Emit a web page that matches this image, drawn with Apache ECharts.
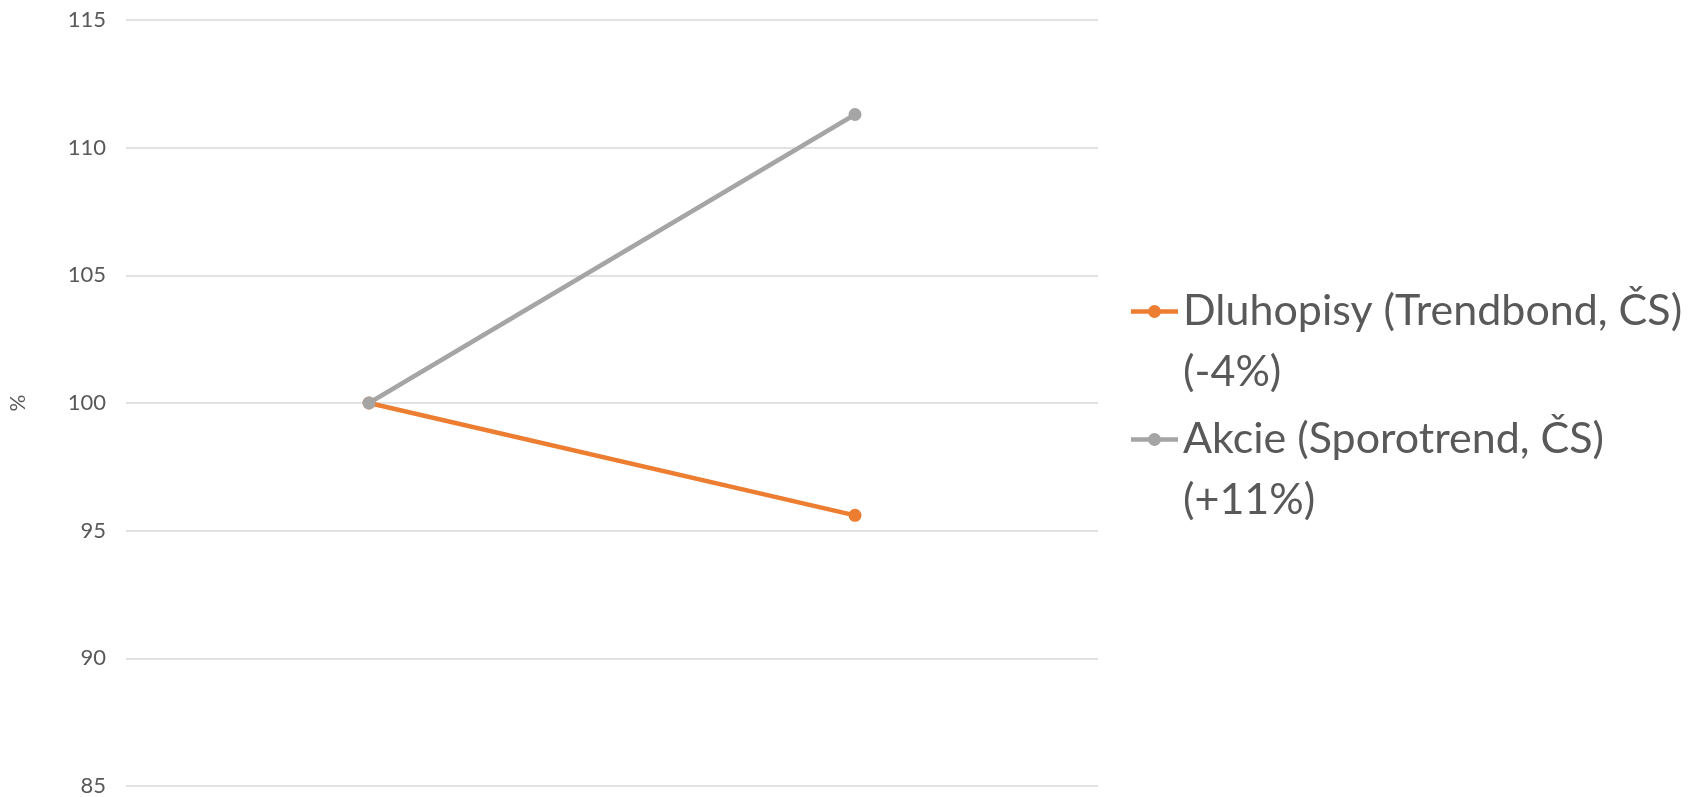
<!DOCTYPE html>
<html>
<head>
<meta charset="utf-8">
<script src="https://cdn.jsdelivr.net/npm/echarts@6/dist/echarts.min.js"></script>
<style>html,body{margin:0;padding:0;background:#fff;}#c{width:1692px;height:797px;}</style>
</head>
<body>
<div id="c"></div>
<script>
const categories = ['', ''];
const bondName = 'Dluhopisy (Trendbond, ČS)';
const bondPct = '(-4%)';
const bondValues = [100, 95.6];
const stockName = 'Akcie (Sporotrend, ČS)';
const stockPct = '(+11%)';
const stockValues = [100, 111.3];
const yMin = 85, yMax = 115, yStep = 5;
const yName = '%';

const pctMap = {};
pctMap[bondName] = bondPct;
pctMap[stockName] = stockPct;

// legend icon: line + circle marker placed at the first text line of a two-line label
const LH = 61;
const IW = 47, IH = 2 * LH;
const cy = LH / 2;
const legendIcon = 'path://M0,0 L0.01,0 ' +
  'M0,' + (cy - 2.25) + ' L' + IW + ',' + (cy - 2.25) + ' L' + IW + ',' + (cy + 2.25) + ' L0,' + (cy + 2.25) + ' Z ' +
  'M' + (IW / 2 + 6.5) + ',' + cy + ' A6.5,6.5 0 1,1 ' + (IW / 2 - 6.5) + ',' + cy + ' A6.5,6.5 0 1,1 ' + (IW / 2 + 6.5) + ',' + cy + ' Z ' +
  'M' + IW + ',' + IH + ' L' + (IW - 0.01) + ',' + IH;

const chart = echarts.init(document.getElementById('c'));
chart.setOption({
  animation: false,
  grid: { left: 123, top: 20, right: 594, bottom: 8, containLabel: false },
  xAxis: {
    type: 'category', data: categories, boundaryGap: true,
    axisLine: { show: false }, axisTick: { show: false }, axisLabel: { show: false }
  },
  yAxis: {
    type: 'value', min: yMin, max: yMax, interval: yStep,
    name: yName, nameLocation: 'middle', nameGap: 97, nameRotate: 90,
    nameTextStyle: { color: '#595959', fontSize: 21, fontFamily: 'Lato' },
    axisLine: { show: false }, axisTick: { show: false },
    axisLabel: { color: '#595959', fontSize: 22, fontFamily: 'Lato', margin: 20 },
    splitLine: { lineStyle: { color: '#D9D9D9', width: 1.5 } }
  },
  legend: {
    orient: 'vertical', left: 1131, top: 281, itemGap: 6, padding: 0,
    itemWidth: IW, itemHeight: IH, icon: legendIcon,
    itemStyle: { borderWidth: 0 },
    formatter: function (n) { return n + '\n' + pctMap[n]; },
    textStyle: { color: '#595959', fontSize: 43, fontFamily: 'Lato', lineHeight: LH },
    data: [bondName, stockName]
  },
  series: [
    { name: bondName, type: 'line', data: bondValues, symbol: 'circle', symbolSize: 13,
      itemStyle: { color: '#ED7D31' }, lineStyle: { color: '#ED7D31', width: 4.5 } },
    { name: stockName, type: 'line', data: stockValues, symbol: 'circle', symbolSize: 13,
      itemStyle: { color: '#A5A5A5' }, lineStyle: { color: '#A5A5A5', width: 4.5 } }
  ]
});
</script>
</body>
</html>
